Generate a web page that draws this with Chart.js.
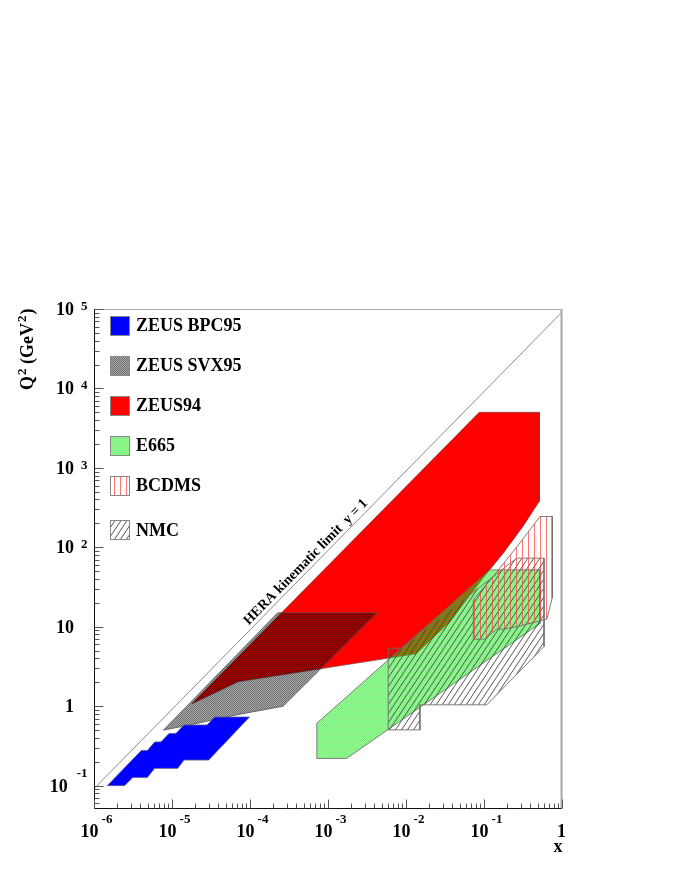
<!DOCTYPE html>
<html>
<head>
<meta charset="utf-8">
<script src="https://cdn.jsdelivr.net/npm/chart.js@4.4.0/dist/chart.umd.min.js"></script>
<style>
  html, body { margin: 0; padding: 0; background: #fff; }
  canvas { display: block; }
</style>
</head>
<body>
<canvas id="kinematicChart" width="674" height="872"></canvas>
<script>
// kinematic regions, x and Q^2 (GeV^2) of the polygon corners
const bpc95X  = [1.5e-6, 2.5e-6, 3.2e-6, 4.9e-6, 6.1e-6, 1.2e-5, 1.45e-5, 3.0e-5, 1.0e-4, 3.6e-5, 2.85e-5, 1.45e-5, 1.14e-5, 9.3e-6, 7.3e-6, 6.1e-6, 4.9e-6, 4.1e-6, 1.5e-6];
const bpc95Q2 = [0.1, 0.1, 0.127, 0.127, 0.165, 0.165, 0.21, 0.21, 0.73, 0.73, 0.58, 0.58, 0.454, 0.454, 0.355, 0.355, 0.277, 0.277, 0.1];

const svx95X  = [7.9e-6, 2.3e-4, 4.3e-3, 2.7e-4, 6.9e-5, 1.7e-5, 7.9e-6];
const svx95Q2 = [0.5, 15, 15, 1.0, 0.78, 0.58, 0.5];

const zeus94X  = [1.82e-5, 0.088, 0.52, 0.52, 0.32, 0.18, 0.099, 0.037, 0.0136, 7.2e-5, 1.82e-5];
const zeus94Q2 = [1.07, 5000, 5000, 380, 183, 85, 41.3, 11.5, 4.56, 2.04, 1.07];

const e665X  = [7.3e-4, 0.12, 0.53, 0.53, 1.76e-3, 7.3e-4, 7.3e-4];
const e665Q2 = [0.61, 52, 52, 11, 0.22, 0.22, 0.61];

const bcdmsX  = [0.53, 0.76, 0.76, 0.65, 0.28, 0.18, 0.148, 0.104, 0.074, 0.074, 0.129, 0.294, 0.53];
const bcdmsQ2 = [244, 244, 23.1, 12.5, 10.1, 9.33, 9.33, 6.98, 6.98, 21.8, 41.3, 114, 244];

const nmcX  = [6.0e-3, 9.0e-3, 0.267, 0.597, 0.597, 0.110, 0.0153, 0.0153, 6.0e-3, 6.0e-3];
const nmcQ2 = [5.37, 5.37, 73.1, 73.1, 5.63, 1.04, 1.04, 0.503, 0.503, 5.37];

// HERA y = 1 line
const heraX  = [1e-6, 1];
const heraQ2 = [0.09, 9e4];
const heraLabel = 'HERA kinematic limit  y = 1';
const heraLabelX = 6.2e-4;

const legendLabels = ['ZEUS BPC95', 'ZEUS SVX95', 'ZEUS94', 'E665', 'BCDMS', 'NMC'];

const xTickValues = [1e-6, 1e-5, 1e-4, 1e-3, 1e-2, 1e-1, 1];
const xTickLabels = [['10', '-6'], ['10', '-5'], ['10', '-4'], ['10', '-3'], ['10', '-2'], ['10', '-1'], ['1', '']];
const yTickValues = [0.1, 1, 10, 100, 1e3, 1e4, 1e5];
const yTickLabels = [['10', '-1'], ['1', ''], ['10', ''], ['10', '2'], ['10', '3'], ['10', '4'], ['10', '5']];

const FONT = '"Liberation Serif", "Times New Roman", serif';

function pts(xs, ys) {
    return xs.map((x, i) => ({ x: x, y: ys[i] }));
}

function makePattern(w, h, draw) {
    const c = document.createElement('canvas');
    c.width = w;
    c.height = h;
    const g = c.getContext('2d');
    draw(g);
    return g.createPattern(c, 'repeat');
}

// fill styles (fine checker, semi transparent so overlaps darken)
const svxFill = makePattern(2, 2, g => {
    g.fillStyle = 'rgba(0,0,0,0.56)';
    g.fillRect(0, 0, 1, 1);
    g.fillRect(1, 1, 1, 1);
    g.fillStyle = 'rgba(0,0,0,0.34)';
    g.fillRect(1, 0, 1, 1);
    g.fillRect(0, 1, 1, 1);
});
const e665Fill = makePattern(2, 2, g => {
    g.fillStyle = 'rgba(20,235,20,0.6)';
    g.fillRect(0, 0, 1, 1);
    g.fillRect(1, 1, 1, 1);
    g.fillStyle = 'rgba(20,235,20,0.4)';
    g.fillRect(1, 0, 1, 1);
    g.fillRect(0, 1, 1, 1);
});
const bcdmsFill = makePattern(6, 4, g => {
    g.fillStyle = 'rgba(255,70,70,0.75)';
    g.fillRect(0, 0, 1, 4);
});
const nmcFill = makePattern(6, 9, g => {
    g.strokeStyle = '#444';
    g.lineWidth = 0.9;
    for (let k = -1; k <= 1; k++) {
        g.beginPath();
        g.moveTo(k * 6, 9);
        g.lineTo(k * 6 + 6, 0);
        g.stroke();
    }
});

function region(label, xs, ys, fill, edge) {
    return {
        label: label,
        data: pts(xs, ys),
        backgroundColor: fill,
        borderColor: edge,
        borderWidth: 1,
        fill: 'shape',
        pointRadius: 0,
        tension: 0
    };
}

// first dataset is drawn on top
const datasets = [
    region('BCDMS', bcdmsX, bcdmsQ2, bcdmsFill, 'rgba(110,110,110,0.9)'),
    region('NMC', nmcX, nmcQ2, nmcFill, 'rgba(110,110,110,0.9)'),
    region('E665', e665X, e665Q2, e665Fill, 'rgba(100,100,100,0.8)'),
    region('ZEUS BPC95', bpc95X, bpc95Q2, '#0000ff', 'rgba(90,90,140,0.8)'),
    region('ZEUS SVX95', svx95X, svx95Q2, svxFill, 'rgba(80,80,80,0.8)'),
    region('ZEUS94', zeus94X, zeus94Q2, '#ff0000', 'rgba(120,60,60,0.7)'),
    {
        label: 'HERA',
        data: pts(heraX, heraQ2),
        borderColor: '#8a8a8a',
        borderWidth: 1,
        fill: false,
        pointRadius: 0
    }
];

const axesPlugin = {
    id: 'rootAxes',
    afterDraw(chart) {
        const ctx = chart.ctx;
        const { left, right, top, bottom } = chart.chartArea;
        const xs = chart.scales.x;
        const ys = chart.scales.y;
        const L = Math.round(left) + 0.5;
        const B = Math.round(bottom) + 0.5;
        ctx.save();

        // frame
        ctx.strokeStyle = '#a8a8a8';
        ctx.lineWidth = 1;
        ctx.beginPath();
        ctx.moveTo(L, Math.round(top) + 0.5);
        ctx.lineTo(right, Math.round(top) + 0.5);
        ctx.stroke();
        ctx.lineWidth = 2;
        ctx.beginPath();
        ctx.moveTo(right, top);
        ctx.lineTo(right, B);
        ctx.stroke();
        ctx.strokeStyle = '#111';
        ctx.lineWidth = 1;
        ctx.beginPath();
        ctx.moveTo(L, top);
        ctx.lineTo(L, B);
        ctx.lineTo(right, B);
        ctx.stroke();

        // ticks
        ctx.strokeStyle = '#555';
        ctx.beginPath();
        for (let e = -6; e <= 0; e++) {
            for (let m = 1; m <= 9; m++) {
                const v = m * Math.pow(10, e);
                if (v > xs.max * 1.0001) continue;
                const px = Math.round(xs.getPixelForValue(v)) + 0.5;
                ctx.moveTo(px, B);
                ctx.lineTo(px, B - (m === 1 ? 9 : 5));
            }
        }
        for (let e = -2; e <= 5; e++) {
            for (let m = 1; m <= 9; m++) {
                const v = m * Math.pow(10, e);
                if (v < ys.min || v > ys.max * 1.0001) continue;
                const py = Math.round(ys.getPixelForValue(v)) + 0.5;
                ctx.moveTo(L, py);
                ctx.lineTo(L + (m === 1 ? 9 : 5), py);
            }
        }
        ctx.stroke();

        // tick labels
        const big = 'bold 18px ' + FONT;
        const small = 'bold 13px ' + FONT;
        ctx.fillStyle = '#000';
        ctx.textBaseline = 'alphabetic';
        ctx.textAlign = 'left';

        xTickValues.forEach((v, i) => {
            const [b, ex] = xTickLabels[i];
            const px = xs.getPixelForValue(v);
            ctx.font = big;
            const wb = ctx.measureText(b).width;
            ctx.font = small;
            const we = ex ? ctx.measureText(ex).width : 0;
            const gap = ex ? 3 : 0;
            const x0 = px + (ex ? 3 : 0) - (wb + gap + we) / 2;
            ctx.font = big;
            ctx.fillText(b, x0, bottom + 29);
            if (ex) {
                ctx.font = small;
                ctx.fillText(ex, x0 + wb + gap, bottom + 15);
            }
        });

        yTickValues.forEach((v, i) => {
            const [b, ex] = yTickLabels[i];
            const py = ys.getPixelForValue(v);
            if (!ex) {
                ctx.font = big;
                ctx.textAlign = 'right';
                ctx.fillText(b, left - 19.5, py + 6);
                return;
            }
            const neg = ex.charAt(0) === '-';
            ctx.font = small;
            ctx.textAlign = 'right';
            const exRight = left - 6;
            ctx.fillText(ex, exRight, py + (neg ? -9 : 1));
            const we = ctx.measureText(ex).width;
            ctx.font = big;
            ctx.fillText(b, exRight - we - (neg ? 9 : 7), py + 6);
        });

        // axis titles
        ctx.textAlign = 'left';
        ctx.font = 'bold 18px ' + FONT;
        ctx.fillText('x', right - 8, bottom + 44);

        ctx.save();
        ctx.translate(33, 390);
        ctx.rotate(-Math.PI / 2);
        let cx = 0;
        ctx.font = big;
        ctx.fillText('Q', cx, 0);
        cx += ctx.measureText('Q').width + 1;
        ctx.font = small;
        ctx.fillText('2', cx, -7);
        cx += ctx.measureText('2').width;
        ctx.font = big;
        ctx.fillText(' (GeV', cx, 0);
        cx += ctx.measureText(' (GeV').width + 1;
        ctx.font = small;
        ctx.fillText('2', cx, -7);
        cx += ctx.measureText('2').width + 1;
        ctx.font = big;
        ctx.fillText(')', cx, 0);
        ctx.restore();

        ctx.restore();
    }
};

const labelsPlugin = {
    id: 'regionLabels',
    afterDraw(chart) {
        const ctx = chart.ctx;
        const { left, top } = chart.chartArea;
        const xs = chart.scales.x;
        const ys = chart.scales.y;
        ctx.save();

        // HERA label along the y = 1 line
        const x1 = xs.getPixelForValue(heraX[0]), y1 = ys.getPixelForValue(heraQ2[0]);
        const x2 = xs.getPixelForValue(heraX[1]), y2 = ys.getPixelForValue(heraQ2[1]);
        const ang = Math.atan2(y2 - y1, x2 - x1);
        const lx = xs.getPixelForValue(heraLabelX);
        const ly = y1 + (lx - x1) * (y2 - y1) / (x2 - x1);
        ctx.translate(lx, ly);
        ctx.rotate(ang);
        ctx.font = 'bold 14px ' + FONT;
        ctx.fillStyle = '#000';
        ctx.textAlign = 'center';
        ctx.textBaseline = 'alphabetic';
        ctx.fillText(heraLabel, 0, -4);
        ctx.setTransform(1, 0, 0, 1, 0, 0);

        // legend boxes
        const rowOffsets = [16, 56, 96, 136, 176, 220.5];
        ctx.textAlign = 'left';
        ctx.font = 'bold 18px ' + FONT;
        legendLabels.forEach((name, i) => {
            const ds = chart.data.datasets.find(d => d.label === name);
            const cy = top + rowOffsets[i];
            const bx = Math.round(left + 16.5) + 0.5;
            const by = Math.round(cy - 9.5) + 0.5;
            ctx.fillStyle = ds.backgroundColor;
            ctx.fillRect(bx, by, 19, 19);
            ctx.strokeStyle = '#888';
            ctx.lineWidth = 1;
            ctx.strokeRect(bx, by, 19, 19);
            ctx.fillStyle = '#000';
            ctx.fillText(name, left + 42.5, cy + 6);
        });
        ctx.restore();
    }
};

const ctx = document.getElementById('kinematicChart').getContext('2d');
const kinematicChart = new Chart(ctx, {
    type: 'line',
    data: { datasets: datasets },
    options: {
        responsive: false,
        animation: false,
        devicePixelRatio: 1,
        events: [],
        layout: {
            padding: { left: 93.5, right: 112.5, top: 309, bottom: 64 }
        },
        scales: {
            x: { type: 'logarithmic', min: 1e-6, max: 1, display: false },
            y: { type: 'logarithmic', min: 0.0523, max: 1e5, display: false }
        },
        plugins: {
            legend: { display: false },
            tooltip: { enabled: false },
            title: { display: false }
        }
    },
    plugins: [axesPlugin, labelsPlugin]
});
</script>
</body>
</html>
